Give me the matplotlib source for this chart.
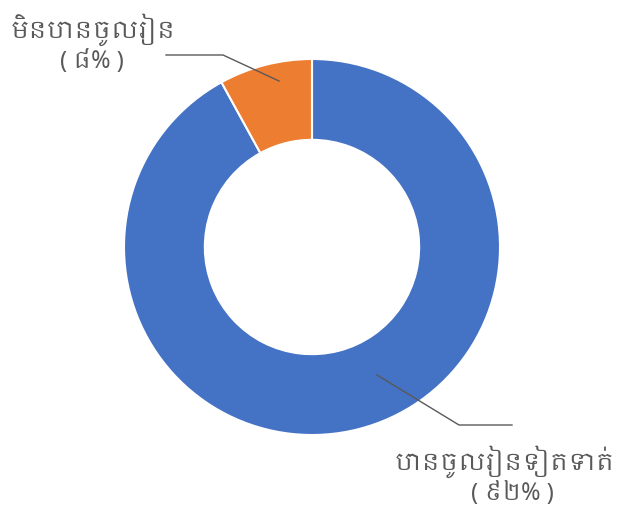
import matplotlib.pyplot as plt
from matplotlib import font_manager

labels = ['បានចូលរៀនទៀតទាត់', 'មិនបានចូលរៀន']
pct_labels = ['( ៩២% )', '( ៨% )']
values = [92, 8]
colors = ['#4472C4', '#ED7D31']

# pick up whatever Khmer font is installed
names = sorted({f.name for f in font_manager.fontManager.ttflist})
khmer = [n for n in names if 'Khmer' in n]
fam = khmer + ['DejaVu Sans']

fig = plt.figure(figsize=(6.35, 5.11), dpi=100)
ax = fig.add_axes([0, 0, 1, 1])
H = 511
cx, cy, r = 312, H - 247, 188
ax.pie(values, colors=colors, startangle=90, counterclock=False,
       center=(cx, cy), radius=r,
       wedgeprops=dict(width=r * 0.43, edgecolor='white', linewidth=1.5))
ax.set_xlim(0, 635)
ax.set_ylim(0, H)
ax.set_aspect('equal')
ax.axis('off')

# leader lines
ax.plot([166, 223, 279], [H - 55, H - 55, H - 81], color='#595959', lw=1)
ax.plot([377, 459, 512], [H - 375, H - 425, H - 425], color='#595959', lw=1)

tc = '#595959'
ax.text(93, H - 30, labels[1], ha='center', va='center', fontsize=17.5, color=tc, family=fam)
ax.text(92, H - 62, pct_labels[1], ha='center', va='center', fontsize=17, color=tc, family=fam)
ax.text(505, H - 462, labels[0], ha='center', va='center', fontsize=17.5, color=tc, family=fam)
ax.text(512, H - 494, pct_labels[0], ha='center', va='center', fontsize=17, color=tc, family=fam)

fig.savefig('out.png', dpi=100)
